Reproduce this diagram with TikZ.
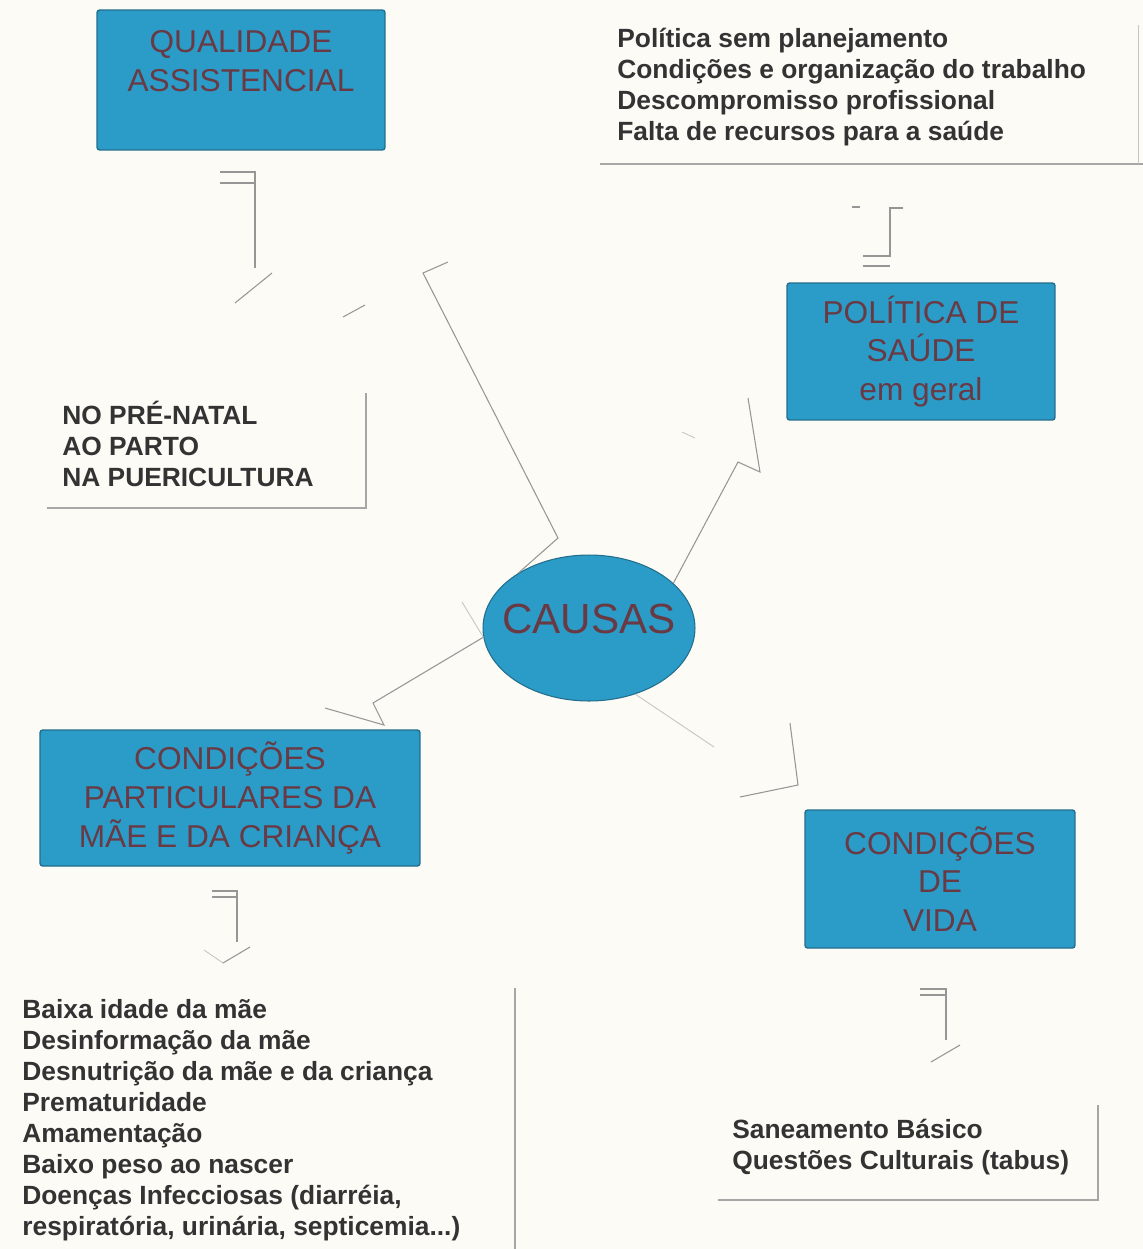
\documentclass[tikz,border=0pt]{standalone}
\usepackage{fontspec}
\setmainfont{Liberation Sans}
\usetikzlibrary{shapes.geometric}
\definecolor{causeblue}{RGB}{43,155,200}
\definecolor{boxedge}{RGB}{35,110,140}
\definecolor{boxtext}{RGB}{105,58,68}
\definecolor{wiregray}{RGB}{150,150,150}
\definecolor{paper}{RGB}{252,251,246}

\begin{document}
\begin{tikzpicture}[
  x=0.02cm, y=-0.02cm,
  cause/.style={rectangle, draw=boxedge, fill=causeblue, line width=0.8pt, rounded corners=1.5pt, text=boxtext, align=center, font=\fontsize{18}{22}\selectfont},
  core/.style={ellipse, draw=boxedge, fill=causeblue, line width=0.6pt, text=boxtext, inner xsep=-0.25cm, inner ysep=0pt, text depth=11pt, minimum width=4.24cm, minimum height=2.92cm, font=\fontsize{24}{28}\selectfont},
  items/.style={anchor=base west, align=left, inner sep=0pt, text=black!80, font=\fontsize{15}{17.6}\selectfont\bfseries},
  wire/.style={draw=wiregray, line width=0.6pt},
  faint/.style={draw=wiregray!55, line width=0.5pt},
  frame/.style={draw=wiregray!85, line width=1pt}
]
\fill[paper] (0,0) rectangle (1143,1249);
\useasboundingbox (0,0) rectangle (1143,1249);

\node (qual) [cause, minimum width=5.76cm, minimum height=2.8cm] at (241,80) {QUALIDADE\\ASSISTENCIAL\\\mbox{}};
\node (pol) [cause, minimum width=5.36cm, minimum height=2.74cm] at (921,351.5) {POLÍTICA DE\\SAÚDE\\em geral};
\node (causas) [core] at (589,628) {CAUSAS};
\node (cpmc) [cause, minimum width=7.6cm, minimum height=2.72cm] at (230,798) {CONDIÇÕES\\PARTICULARES DA\\MÃE E DA CRIANÇA};
\node (cvida) [cause, minimum width=5.4cm, minimum height=2.76cm] at (940,879) {CONDIÇÕES\\DE\\VIDA};

\node (polfatores) [items] at (617,140) {Política sem planejamento\\Condições e organização do trabalho\\Descompromisso profissional\\Falta de recursos para a saúde};
\node (assist) [items] at (62,486) {NO PRÉ-NATAL\\AO PARTO\\NA PUERICULTURA};
\node (fatores) [items] at (22,1235) {Baixa idade da mãe\\Desinformação da mãe\\Desnutrição da mãe e da criança\\Prematuridade\\Amamentação\\Baixo peso ao nascer\\Doenças Infecciosas (diarréia,\\respiratória, urinária, septicemia...)};
\node (vida) [items] at (732,1169) {Saneamento Básico\\Questões Culturais (tabus)};

\draw[frame] (600,164) -- (1143,164);
\draw[faint] (1138,164) -- (1138,25);
\draw[frame] (47,508) -- (366,508) -- (366,393);
\draw[frame] (515,988) -- (515,1249);
\draw[frame] (718,1200) -- (1098,1200) -- (1098,1105);

% qualidade assistencial
\draw[wire] (220,172) -- (255,172) -- (255,268);
\draw[wire] (220,183) -- (255,183);
\draw[wire] (235,303) -- (272,273);
\draw[wire] (343,317) -- (365,305);
\draw[wire] (causas.142) -- (558,538) -- (423,273) -- (448,262);

% politica de saude
\draw[wire] (causas.28) -- (738,462) -- (760,472) -- (748,398);
\draw[faint] (682,432) -- (695,438);
\draw[wire] (863,256) -- (890,256) -- (890,208) -- (903,208);
\draw[wire] (863,266) -- (890,266);
\draw[wire] (852,207) -- (860,207);

% condicoes particulares
\draw[wire] (causas.185) -- (373,703) -- (384,725) -- (325,708);
\draw[faint] (462,602) -- (causas.185);
\draw[wire] (212,891) -- (237,891) -- (237,942);
\draw[wire] (212,897) -- (237,897);
\draw[faint] (204,950) -- (223,963);
\draw[wire] (223,963) -- (250,947);

% condicoes de vida
\draw[faint] (causas.-55) -- (714,747);
\draw[wire] (790,723) -- (798,785) -- (740,797);
\draw[wire] (920,989) -- (946,989) -- (946,1040);
\draw[wire] (920,995) -- (946,995);
\draw[wire] (931,1062) -- (960,1045);
\end{tikzpicture}
\end{document}
